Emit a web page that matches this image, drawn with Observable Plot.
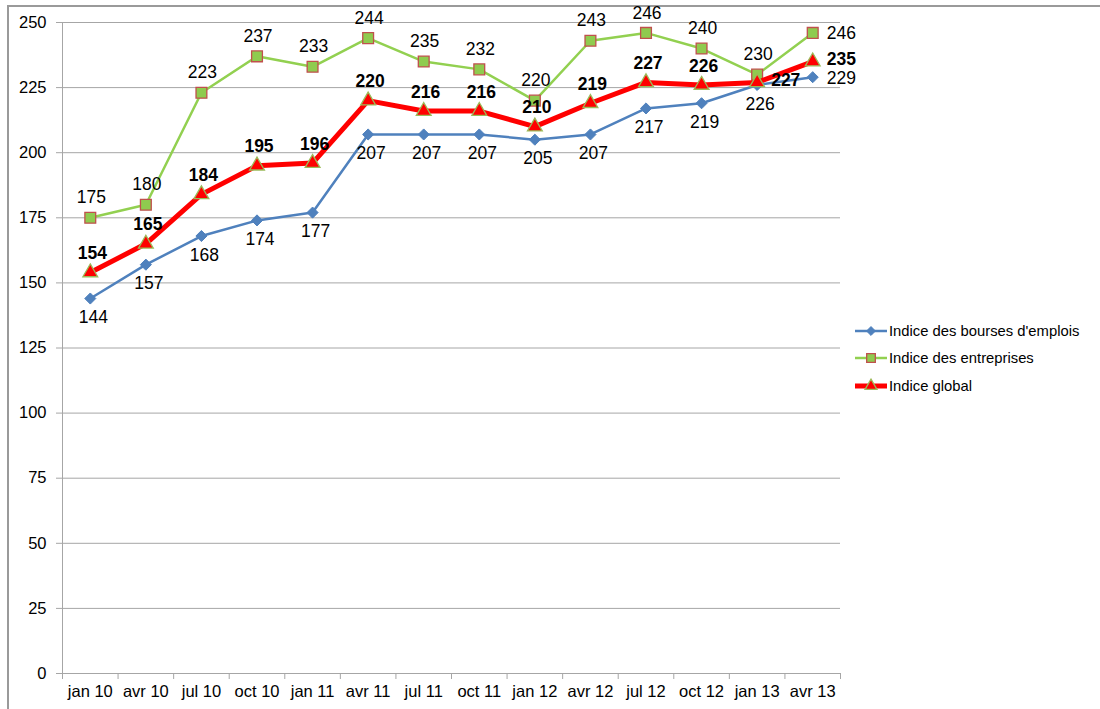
<!DOCTYPE html>
<html>
<head>
<meta charset="utf-8">
<script src="https://cdn.jsdelivr.net/npm/d3@7"></script>
<script src="https://cdn.jsdelivr.net/npm/@observablehq/plot@0.6"></script>
<style>
  html, body { margin: 0; padding: 0; background: #fff; }
  #wrap { position: relative; width: 1100px; height: 709px; overflow: hidden; font-family: "Liberation Sans", Arial, sans-serif; }
  #frame { position: absolute; left: 7px; top: 5px; width: 1100px; height: 720px; border-left: 2px solid #9a9a9a; border-top: 2px solid #9a9a9a; }
  #chart { position: absolute; left: 0; top: 0; }
  #legend { position: absolute; left: 854px; top: 317px; font-size: 14.8px; color: #000; }
  .lg { display: flex; align-items: center; height: 27.5px; }
  .lg svg { margin-right: 1px; }
</style>
</head>
<body>
<div id="wrap">
  <div id="frame"></div>
  <div id="chart"></div>
  <div id="legend"></div>
</div>
<script>
const categories = ["jan 10","avr 10","jul 10","oct 10","jan 11","avr 11","jul 11","oct 11","jan 12","avr 12","jul 12","oct 12","jan 13","avr 13"];
const seriesNames = ["Indice des bourses d'emplois","Indice des entreprises","Indice global"];
const bourses     = [144,157,168,174,177,207,207,207,205,207,217,219,226,229];
const entreprises = [175,180,223,237,233,244,235,232,220,243,246,240,230,246];
const globalIdx   = [154,165,184,195,196,220,216,216,210,219,227,226,227,235];
const yTicks = [0,25,50,75,100,125,150,175,200,225,250];

const styles = [
  {line: "#4F81BD", lw: 2.5, symbol: "diamond2", r: 5, fill: "#4F81BD", stroke: "#4F81BD", sw: 1},
  {line: "#92D050", lw: 2.5, symbol: "square", r: 6.1, fill: "#8FCB4F", stroke: "#C0504D", sw: 1.3},
  {line: "#FF0000", lw: 5, symbol: "triangle", r: 5.5, fill: "#FF0000", stroke: "#9BBB59", sw: 1.3}
];
const values = [bourses, entreprises, globalIdx];
const rows = values.map((arr, s) => arr.map((v, i) => ({i, v, s, last: i === arr.length - 1})));

const grid = "#a6a6a6";
const font = "Liberation Sans, Arial, sans-serif";

const marks = [
  Plot.gridY(yTicks, {stroke: grid, strokeOpacity: 1, strokeWidth: 1}),
  Plot.ruleX([-0.5], {y1: 0, y2: 250, stroke: grid, strokeWidth: 1}),
  Plot.axisY(yTicks, {tickSize: 6, tickPadding: 10, stroke: grid, fill: "#000", fontSize: 16.5, label: null}),
  Plot.axisX(d3.range(categories.length + 1).map(d => d - 0.5), {tickSize: 6, stroke: grid, tickFormat: () => "", label: null}),
  Plot.axisX(d3.range(categories.length), {tickSize: 0, tickPadding: 12, fill: "#000", fontSize: 16.5, tickFormat: i => categories[i], label: null})
];

rows.forEach((data, s) => {
  const st = styles[s];
  marks.push(Plot.line(data, {x: "i", y: "v", stroke: st.line, strokeWidth: st.lw, curve: "linear"}));
  marks.push(Plot.dot(data, {x: "i", y: "v", symbol: st.symbol, r: st.r, fill: st.fill, stroke: st.stroke, strokeWidth: st.sw}));
});

// Labels
const b = rows[0], e = rows[1], g = rows[2];
const fs = 17.5;
marks.push(Plot.text(b.filter(d => !d.last), {x: "i", y: "v", text: "v", dy: 19, dx: 3, fontSize: fs, fill: "#000"}));
marks.push(Plot.text(b.filter(d => d.last), {x: "i", y: "v", text: "v", dx: 14, dy: 1, textAnchor: "start", fontSize: fs, fill: "#000"}));
marks.push(Plot.text(e.filter(d => !d.last), {x: "i", y: "v", text: "v", dy: -20, dx: 1, fontSize: fs, fill: "#000"}));
marks.push(Plot.text(e.filter(d => d.last), {x: "i", y: "v", text: "v", dx: 14, textAnchor: "start", fontSize: fs, fill: "#000"}));
marks.push(Plot.text(g.filter(d => d.i < 12), {x: "i", y: "v", text: "v", dy: -19, dx: 2, fontSize: fs, fontWeight: "bold", fill: "#000"}));
marks.push(Plot.text(g.filter(d => d.i >= 12), {x: "i", y: "v", text: "v", dx: 14, dy: -2, textAnchor: "start", fontSize: fs, fontWeight: "bold", fill: "#000"}));

const chart = Plot.plot({
  width: 1100,
  height: 709,
  marginLeft: 62,
  marginRight: 260,
  marginTop: 22,
  marginBottom: 36,
  style: {fontFamily: font, background: "transparent", color: "#000"},
  x: {type: "linear", domain: [-0.5, categories.length - 0.5], axis: null},
  y: {type: "linear", domain: [0, 250], axis: null},
  marks
});
document.getElementById("chart").appendChild(chart);

// Legend
const legend = document.getElementById("legend");
seriesNames.forEach((name, s) => {
  const st = styles[s];
  const row = document.createElement("div");
  row.className = "lg";
  const svg = d3.create("svg").attr("width", 34).attr("height", 16);
  svg.append("line").attr("x1", 1).attr("x2", 33).attr("y1", 8).attr("y2", 8)
    .attr("stroke", st.line).attr("stroke-width", st.lw);
  const symMap = {diamond2: d3.symbolDiamond2, square: d3.symbolSquare, triangle: d3.symbolTriangle};
  svg.append("path").attr("transform", "translate(17,8)")
    .attr("d", d3.symbol(symMap[st.symbol], Math.PI * (st.r * 0.8) ** 2)())
    .attr("fill", st.fill).attr("stroke", st.stroke).attr("stroke-width", st.sw);
  row.appendChild(svg.node());
  const span = document.createElement("span");
  span.textContent = name;
  row.appendChild(span);
  legend.appendChild(row);
});
</script>
</body>
</html>
